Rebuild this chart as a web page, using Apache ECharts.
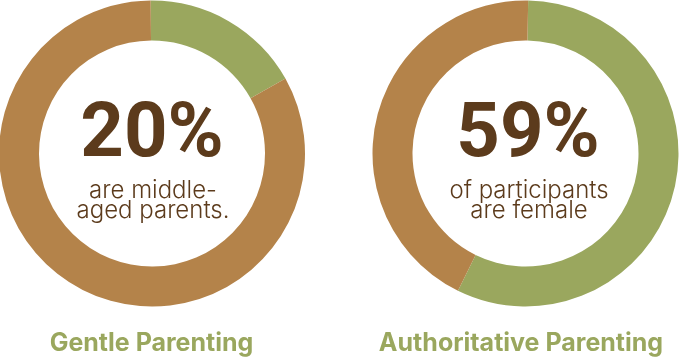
<!DOCTYPE html>
<html>
<head>
<meta charset="utf-8">
<script src="https://cdn.jsdelivr.net/npm/echarts@6/dist/echarts.min.js"></script>
<style>
html,body{margin:0;padding:0;background:#fff;}
#chart{width:679px;height:363px;}
</style>
</head>
<body>
<div id="chart"></div>
<script>
// Data
var categories = ['Highlighted', 'Rest'];
var gentleValues = [17, 83];
var authoritativeValues = [57, 43];
var chartTitles = ['Gentle Parenting', 'Authoritative Parenting'];
var bigLabels = ['20%', '59%'];
var subLabels = [['are middle-', 'aged parents.'], ['of participants', 'are female']];

var GREEN = '#9AA75E';
var BROWN = '#B4834A';
var DARK = '#5C3B1C';
var FONT = 'Inter, "Noto Sans", sans-serif';
var BIGFONT = 'Roboto, Inter, sans-serif';

function pieData(vals) {
  return vals.map(function (v, i) {
    return { name: categories[i], value: v, itemStyle: { color: i === 0 ? GREEN : BROWN } };
  });
}

var centers = [[152, 153.5], [525.5, 153.5]];
var startAngles = [90.5, 89];

var series = [gentleValues, authoritativeValues].map(function (vals, k) {
  return {
    type: 'pie',
    center: centers[k],
    radius: [113, 153],
    startAngle: startAngles[k],
    clockwise: true,
    silent: true,
    label: { show: false },
    labelLine: { show: false },
    itemStyle: { borderWidth: 0 },
    emphasis: { disabled: true },
    data: pieData(vals)
  };
});

var graphics = [];
var bigX = [152, 528];
var subX = [153, 529];
var titleX = [151.5, 521];
for (var k = 0; k < 2; k++) {
  graphics.push({
    type: 'text', x: bigX[k], y: 136.5, silent: true,
    style: { text: bigLabels[k], fill: DARK, font: '700 76px ' + BIGFONT, textAlign: 'center', textVerticalAlign: 'middle' }
  });
  graphics.push({
    type: 'text', x: subX[k], y: 191, silent: true,
    style: { text: subLabels[k][0], fill: DARK, font: '300 24px ' + FONT, textAlign: 'center', textVerticalAlign: 'middle' }
  });
  graphics.push({
    type: 'text', x: subX[k], y: 211, silent: true,
    style: { text: subLabels[k][1], fill: DARK, font: '300 24px ' + FONT, textAlign: 'center', textVerticalAlign: 'middle' }
  });
  graphics.push({
    type: 'text', x: titleX[k], y: 343, silent: true,
    style: { text: chartTitles[k], fill: GREEN, font: '700 25px ' + FONT, textAlign: 'center', textVerticalAlign: 'middle' }
  });
}

var chart = echarts.init(document.getElementById('chart'), null, { renderer: 'canvas' });
chart.setOption({
  animation: false,
  backgroundColor: '#ffffff',
  series: series,
  graphic: graphics
});
</script>
</body>
</html>
